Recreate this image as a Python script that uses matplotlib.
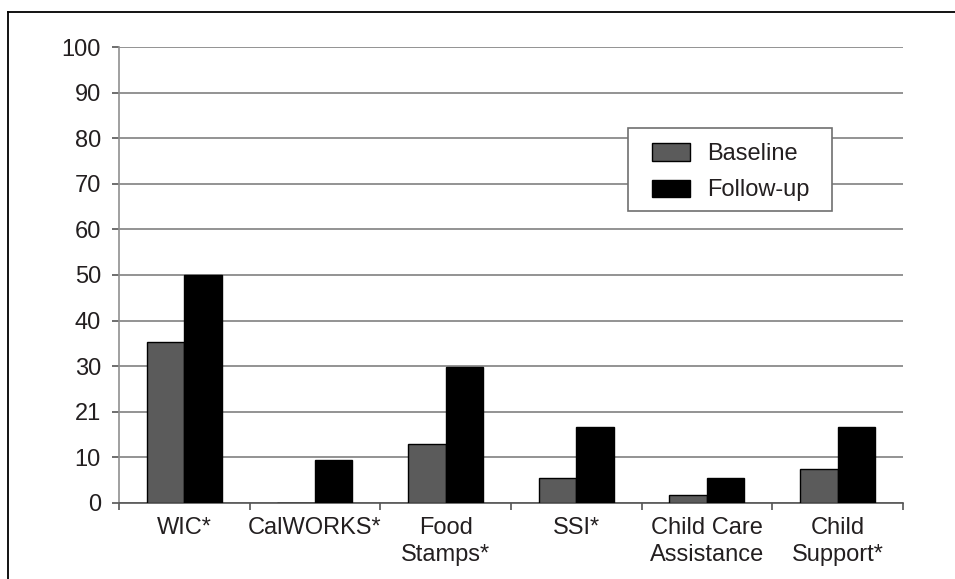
import numpy as np
import matplotlib
matplotlib.use("Agg")
from matplotlib import pyplot as plt
from matplotlib.lines import Line2D
from matplotlib.patches import Rectangle

plt.rcParams['font.family'] = ['Liberation Sans', 'DejaVu Sans']

# data
categories = ["WIC*", "CalWORKS*", "Food\nStamps*", "SSI*",
              "Child Care\nAssistance", "Child\nSupport*"]
baseline = [35.2, 0, 12.9, 5.5, 1.8, 7.4]
followup = [50.1, 9.4, 29.9, 16.7, 5.5, 16.7]
ytick_vals = [0, 10, 20, 30, 40, 50, 60, 70, 80, 90, 100]
ytick_labels = ["0", "10", "21", "30", "40", "50", "60", "70", "80", "90", "100"]

fig = plt.figure(figsize=(9.55, 5.79), dpi=100)
ax = fig.add_axes([0.1246, 0.1313, 0.8209, 0.7875])

x = np.arange(len(categories))
w = 0.287
ax.bar(x - w / 2, baseline, w, color="#5b5b5b", edgecolor="black", linewidth=1.0,
       label="Baseline", zorder=3)
ax.bar(x + w / 2, followup, w, color="black", edgecolor="black", linewidth=1.0,
       label="Follow-up", zorder=3)

ax.set_xlim(-0.5, len(categories) - 0.5)
ax.set_ylim(0, 100)
ax.set_yticks(ytick_vals)
ax.set_yticklabels(ytick_labels, fontsize=17)
ax.yaxis.grid(True, color="#808080", linewidth=1.2, zorder=0)

ax.set_xticks(x)
ax.set_xticklabels(categories, fontsize=17, linespacing=1.3)
ax.set_xticks(np.arange(len(categories) + 1) - 0.5, minor=True)
ax.tick_params(axis="x", which="major", length=0, pad=10, labelcolor="#231f20")
ax.tick_params(axis="x", which="minor", length=5, width=1.2, color="#555555")
ax.tick_params(axis="y", length=5, width=1.2, color="#555555", pad=8, labelcolor="#231f20")

for s in ["top", "right"]:
    ax.spines[s].set_visible(False)
ax.spines["left"].set_color("#909090")
ax.spines["left"].set_linewidth(1.2)
ax.spines["bottom"].set_color("#555555")
ax.spines["bottom"].set_linewidth(1.2)

# legend with a hand drawn frame
frame = Rectangle((0.649, 0.640), 0.260, 0.182, transform=ax.transAxes,
                  facecolor="white", edgecolor="#707070", linewidth=1.2, zorder=4)
ax.add_patch(frame)
leg = ax.legend(loc="upper left", bbox_to_anchor=(0.651, 0.838), frameon=False,
                fontsize=17, handlelength=1.6, handleheight=0.75,
                handletextpad=0.75, labelspacing=0.6, borderpad=0.45)
for t in leg.get_texts():
    t.set_color("#231f20")
leg.set_zorder(5)

# outer border (top and left only visible)
fig.add_artist(Line2D([8 / 955, 1], [1 - 12 / 579, 1 - 12 / 579],
                      transform=fig.transFigure, color="black", linewidth=1.3))
fig.add_artist(Line2D([8 / 955, 8 / 955], [0, 1 - 12 / 579],
                      transform=fig.transFigure, color="black", linewidth=1.3))

fig.savefig("out.png", dpi=100)
